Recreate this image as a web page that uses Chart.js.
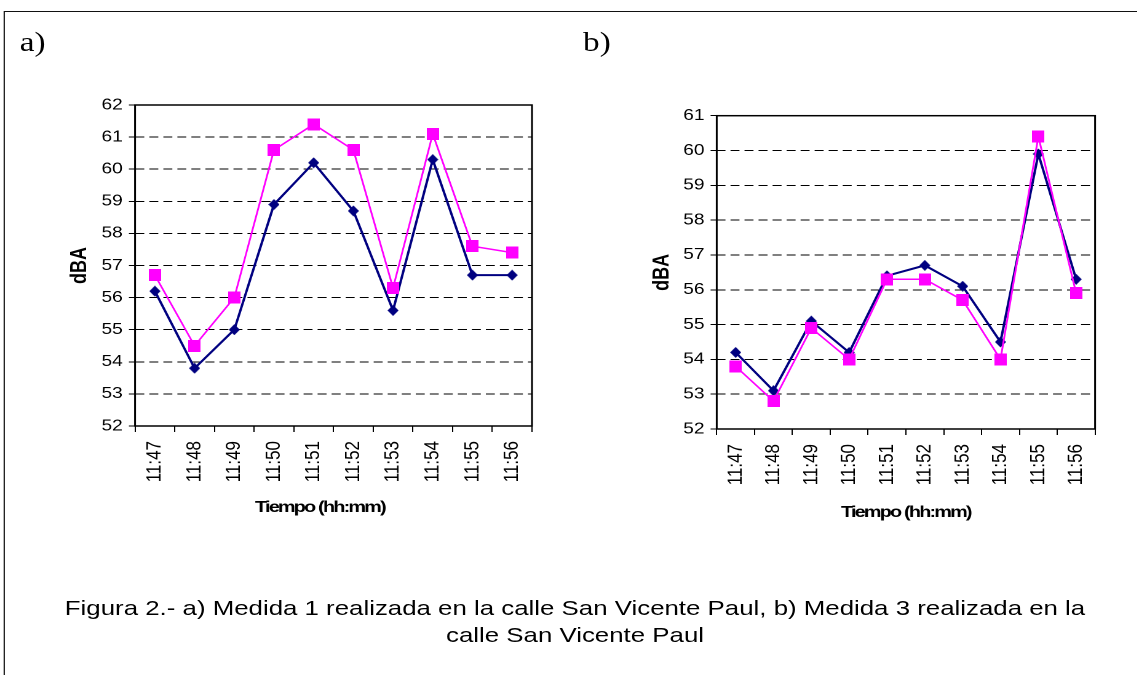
<!DOCTYPE html>
<html>
<head>
<meta charset="utf-8">
<script src="https://cdn.jsdelivr.net/npm/chart.js@4.4.1/dist/chart.umd.min.js"></script>
<style>
  html, body { margin: 0; padding: 0; background: #fff; overflow: hidden; }
  body { width: 1137px; height: 675px; position: relative; }
  /* the reference picture is stretched sideways, so the whole page is too */
  #page { position: absolute; left: 0; top: 0; width: 925px; height: 675px; transform: scaleX(1.23); transform-origin: 0 0; }
  #frame { position: absolute; left: 3px; top: 11px; width: 1000px; height: 800px; border: 1.5px solid #111; }
  .tag { position: absolute; font-family: "Liberation Serif", "Times New Roman", serif; font-size: 27px; line-height: 27px; }
  canvas { position: absolute; }
  #caption { position: absolute; left: 0; top: 594px; width: 935px; text-align: center;
    font-family: "Liberation Sans", Arial, sans-serif; font-size: 21px; line-height: 27px; }
</style>
</head>
<body>
<div id="page">
  <div id="frame"></div>
  <div class="tag" style="left:16px; top:29px;">a)</div>
  <div class="tag" style="left:474px; top:29px;">b)</div>
  <canvas id="chartA" width="420" height="450" style="left:30px; top:80px;"></canvas>
  <canvas id="chartB" width="390" height="460" style="left:515px; top:80px;"></canvas>
  <div id="caption">Figura 2.- a) Medida 1 realizada en la calle San Vicente Paul, b) Medida 3 realizada en la<br>calle San Vicente Paul</div>
</div>
<script>
// data
const timeLabels = ['11:47', '11:48', '11:49', '11:50', '11:51', '11:52', '11:53', '11:54', '11:55', '11:56'];

const medida1Navy = [56.2, 53.8, 55.0, 58.9, 60.2, 58.7, 55.6, 60.3, 56.7, 56.7];
const medida1Pink = [56.7, 54.5, 56.0, 60.6, 61.4, 60.6, 56.3, 61.1, 57.6, 57.4];

const medida3Navy = [54.2, 53.1, 55.1, 54.2, 56.4, 56.7, 56.1, 54.5, 59.9, 56.3];
const medida3Pink = [53.8, 52.8, 54.9, 54.0, 56.3, 56.3, 55.7, 54.0, 60.4, 55.9];

const yRangeA = [52, 62];
const yRangeB = [52, 61];

const yTitle = 'dBA';
const xTitle = 'Tiempo (hh:mm)';

const NAVY = '#000080';
const PINK = '#FF00FF';
const FONT = '"Liberation Sans", Arial, sans-serif';

// marker images, drawn big and shown small so they stay sharp
function makeMarker(shape, w, h, color) {
  const k = 4;
  const c = document.createElement('canvas');
  c.width = w * k;
  c.height = h * k;
  const g = c.getContext('2d');
  g.fillStyle = color;
  g.beginPath();
  if (shape === 'diamond') {
    g.moveTo(c.width / 2, 0);
    g.lineTo(c.width, c.height / 2);
    g.lineTo(c.width / 2, c.height);
    g.lineTo(0, c.height / 2);
  } else {
    g.rect(0, 0, c.width, c.height);
  }
  g.closePath();
  g.fill();
  return new Promise(resolve => {
    const img = new Image();
    img.onload = () => {
      img.width = w;
      img.height = h;
      resolve(img);
    };
    img.src = c.toDataURL();
  });
}

// plot frame on all four sides
const framePlugin = {
  id: 'frame',
  beforeDatasetsDraw(chart) {
    const { ctx, chartArea: a } = chart;
    ctx.save();
    ctx.strokeStyle = '#000';
    ctx.lineWidth = 1.5;
    ctx.strokeRect(a.left, a.top, a.right - a.left, a.bottom - a.top);
    ctx.restore();
  }
};

// the x title in the picture is set tight (and a little off centre in a)
function tightTitlePlugin(shift) {
  return {
    id: 'tightTitle',
    afterLayout(chart) {
      const scale = chart.scales.x;
      if (scale._tightTitle) return;
      const orig = scale.drawTitle;
      scale.drawTitle = function () {
        this.ctx.save();
        this.ctx.letterSpacing = '-1.4px';
        this.ctx.translate(shift, 0);
        orig.call(this);
        this.ctx.restore();
      };
      scale._tightTitle = true;
    }
  };
}

function makeChart(id, navy, pink, yRange, geo, markers) {
  return new Chart(document.getElementById(id), {
    type: 'line',
    data: {
      labels: timeLabels,
      datasets: [
        {
          data: pink,
          borderColor: PINK,
          borderWidth: 1.5,
          pointStyle: markers.square,
          pointRadius: 6,
          order: 0,
        },
        {
          data: navy,
          borderColor: NAVY,
          borderWidth: 2,
          pointStyle: markers.diamond,
          pointRadius: 6,
          order: 1,
        },
      ],
    },
    options: {
      responsive: false,
      animation: false,
      devicePixelRatio: 2,
      events: [],
      layout: { padding: { left: 0, top: geo.padTop, right: geo.padRight, bottom: 0 } },
      plugins: { legend: { display: false }, tooltip: { enabled: false } },
      scales: {
        x: {
          type: 'category',
          offset: true,
          border: { display: false },
          grid: { display: true, offset: true, drawOnChartArea: false, drawTicks: true, tickLength: 6, color: '#000' },
          ticks: {
            color: '#000',
            font: { family: FONT, size: 17 },
            minRotation: 90,
            maxRotation: 90,
            autoSkip: false,
            padding: 9,
          },
          title: {
            display: true,
            text: xTitle,
            color: '#000',
            font: { family: FONT, size: 16, weight: 'bold' },
            padding: { top: 0, bottom: geo.xTitlePad },
          },
          afterFit(scale) { scale.height = geo.xHeight; },
        },
        y: {
          min: yRange[0],
          max: yRange[1],
          border: { display: false, dash: [7.3, 4.1] },
          grid: { color: '#000', lineWidth: 1, tickLength: 5, tickBorderDash: [], tickColor: '#000' },
          ticks: {
            stepSize: 1,
            color: '#000',
            font: { family: FONT, size: 15.5 },
            padding: 5,
          },
          title: {
            display: true,
            text: yTitle,
            color: '#000',
            font: { family: FONT, size: 18, weight: 'bold' },
            padding: { top: geo.yTitlePad, bottom: 0 },
          },
          afterFit(scale) { scale.width = geo.yWidth; },
        },
      },
    },
    plugins: [framePlugin, tightTitlePlugin(geo.titleShift)],
  });
}

Promise.all([
  makeMarker('diamond', 9, 11, NAVY),
  makeMarker('square', 10, 12, PINK),
]).then(([diamond, square]) => {
  const markers = { diamond, square };
  makeChart('chartA', medida1Navy, medida1Pink, yRangeA,
    { yWidth: 79.8, padRight: 17.5, padTop: 25, xHeight: 104, yTitlePad: 24.2, xTitlePad: 13, titleShift: -11 }, markers);
  makeChart('chartB', medida3Navy, medida3Pink, yRangeB,
    { yWidth: 67.7, padRight: 13.4, padTop: 35.7, xHeight: 111, yTitlePad: 12.8, xTitlePad: 18, titleShift: 0 }, markers);
});
</script>
</body>
</html>
